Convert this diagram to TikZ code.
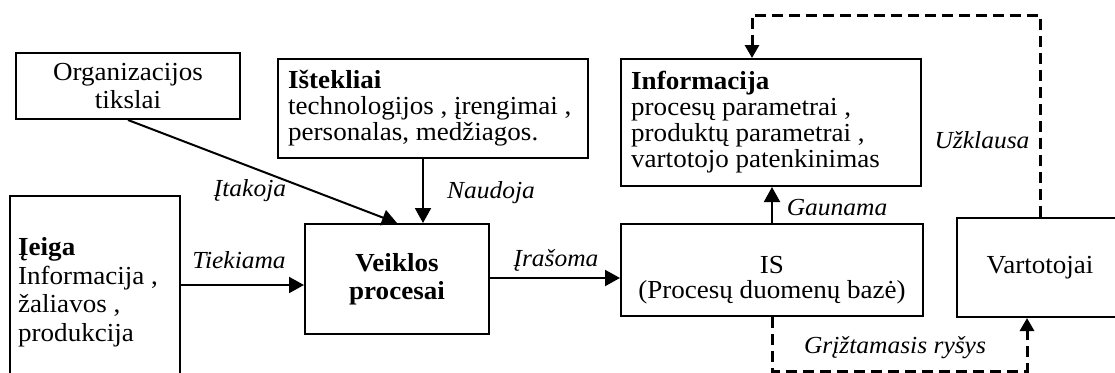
\documentclass[tikz,border=0pt]{standalone}
\usepackage{fontspec}
\setmainfont[FakeStretch=1.04]{Liberation Serif}
\usetikzlibrary{arrows.meta}
\begin{document}
\begin{tikzpicture}[x=1pt,y=-1pt,
  box/.style={draw, line width=2pt, inner sep=0pt, font=\fontsize{26}{28}\selectfont},
  txt/.style={inner sep=0pt, align=left, font=\fontsize{26}{26}\selectfont},
  lab/.style={font=\fontsize{24.5}{26}\selectfont\itshape, inner sep=0pt},
  arr/.style={line width=2pt, -{Triangle[length=15pt,width=16pt]}},
  darr/.style={line width=3pt, dash pattern=on 11pt off 6pt, -{Triangle[length=13pt,width=14pt]}}]
\useasboundingbox (0,0) rectangle (1115,372);
\clip (0,0) rectangle (1115,372);
% boxes
\node[box, minimum width=224pt, minimum height=66pt, align=center] (org) at (128,86) {Organizacijos\\tikslai};
\node[box, minimum width=310pt, minimum height=99pt] (ist) at (433,108.5) {};
\node[txt, anchor=west] (isttxt) at (288,108) {\textbf{Ištekliai}\\technologijos , įrengimai ,\\personalas, medžiagos.};
\node[box, minimum width=300pt, minimum height=127pt] (info) at (771,122.5) {};
\node[txt, anchor=west] (infotxt) at (631,122) {\textbf{Informacija}\\procesų parametrai ,\\produktų parametrai ,\\vartotojo patenkinimas};
\node[box, minimum width=170pt, minimum height=194pt] (ieiga) at (95,293) {};
\node[txt, anchor=west, font=\fontsize{26}{28.5}\selectfont] (ieigatxt) at (18,292) {\textbf{Įeiga}\\Informacija ,\\žaliavos ,\\produkcija};
\node[box, minimum width=184pt, minimum height=110pt, align=center, font=\fontsize{26}{28}\selectfont\bfseries] (veiklos) at (397,279) {Veiklos\\procesai};
\node[box, minimum width=302pt, minimum height=92pt] (is) at (772,270) {};
\node[inner sep=0pt, align=center, font=\fontsize{26}{24.5}\selectfont] (istxt) at (772,280) {IS\\(Procesų duomenų bazė)};
\node[box, minimum width=166pt, minimum height=99pt] (vart) at (1040,267.5) {Vartotojai};
% arrows
\draw[arr] (org.south) -- (veiklos.north);
\draw[arr] (ist.south -| 423,0) -- (veiklos.north -| 423,0);
\draw[arr] (ieiga.east |- 0,285) -- (veiklos.west |- 0,285);
\draw[arr] (veiklos.east |- 0,278) -- (is.west |- 0,278);
\draw[arr] (is.north) -- (is.north |- info.south);
\draw[darr] (vart.north) -- (vart.north |- 0,15) -| (info.north -| 752,0);
\draw[darr] (is.south) -- (is.south |- 0,371) -| (vart.south -| 1027,0);
% labels
\node[lab] (l1) at (250,191) {Įtakoja};
\node[lab] (l2) at (491,193) {Naudoja};
\node[lab] (l3) at (239,260) {Tiekiama};
\node[lab] (l4) at (556,260) {Įrašoma};
\node[lab] (l5) at (837,208) {Gaunama};
\node[lab] (l6) at (982,140) {Užklausa};
\node[lab] (l7) at (895,348) {Grįžtamasis ryšys};
\end{tikzpicture}
\end{document}
